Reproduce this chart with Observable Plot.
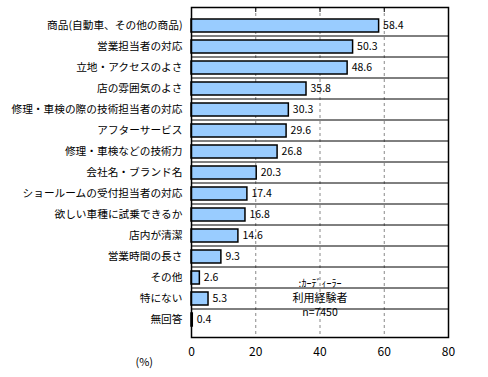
<!DOCTYPE html>
<html><head><meta charset="utf-8">
<script src="https://cdn.jsdelivr.net/npm/d3@7"></script>
<script src="https://cdn.jsdelivr.net/npm/@observablehq/plot@0.6"></script>
<style>
body{margin:0;background:#fff;}
svg{font-family:"Noto Sans CJK JP",sans-serif;}
</style>
</head><body><div id="chart"></div>
<script>
const categories = ["商品(自動車、その他の商品)","営業担当者の対応","立地・アクセスのよさ","店の雰囲気のよさ","修理・車検の際の技術担当者の対応","アフターサービス","修理・車検などの技術力","会社名・ブランド名","ショールームの受付担当者の対応","欲しい車種に試乗できるか","店内が清潔","営業時間の長さ","その他","特にない","無回答"];
const values = [58.4,50.3,48.6,35.8,30.3,29.6,26.8,20.3,17.4,16.8,14.6,9.3,2.6,5.3,0.4];
const xTicks = [0,20,40,60,80];
const gridTicks = [20,40,60];
const noteLines = [":ｶｰﾃﾞｨｰﾗｰ","利用経験者","n=7450"];
const unitLabel = "(%)";

const data = categories.map((c,i)=>({cat:c, v:values[i]}));

const chart = Plot.plot({
  width: 488, height: 377,
  marginLeft: 191, marginRight: 40, marginTop: 7, marginBottom: 40,
  style: {fontSize: "11px", fontFamily: "'Noto Sans CJK JP', sans-serif", color: "#000", background: "#fff"},
  x: {domain: [0,80], label: null},
  y: {domain: categories, padding: 0.4, label: null},
  marks: [
    Plot.ruleX(gridTicks, {stroke: "#888", strokeDasharray: "3,3", strokeWidth: 1}),
    Plot.barX(data, {x: "v", y: "cat", fill: "#99ccff", stroke: "#000", strokeWidth: 1.5}),
    Plot.text(data, {x: "v", y: "cat", text: d => d.v.toFixed(1), textAnchor: "start", dx: 4, fontSize: 10.5}),
    Plot.axisX({ticks: xTicks, tickSize: 0, tickPadding: 10, tickFormat: d => String(d), fontSize: 12, label: null}),
    Plot.axisX({anchor: "top", ticks: gridTicks, tickSize: -4, text: null, label: null, stroke: "#000"}),
    Plot.axisY({tickSize: 0, tickPadding: 9, fontSize: 10.7, label: null}),
    Plot.tickY(categories.slice(1), {y: d => d, x1: 0, x2: 1, dy: -11, stroke: "#000"}),
    Plot.frame({stroke: "#000", strokeWidth: 1.5}),
    Plot.text([noteLines[0]], {x: 40, frameAnchor: "bottom", dy: -51, fontSize: 10, text: d => d}),
    Plot.text([noteLines[1]], {x: 40, frameAnchor: "bottom", dy: -36, fontSize: 11, text: d => d}),
    Plot.text([noteLines[2]], {x: 40, frameAnchor: "bottom", dy: -22, fontSize: 10.5, text: d => d}),
    Plot.text([unitLabel], {frameAnchor: "bottom-left", dx: -56, dy: 28, fontSize: 11, text: d => d})
  ]
});
document.getElementById("chart").appendChild(chart);
</script>
</body></html>
